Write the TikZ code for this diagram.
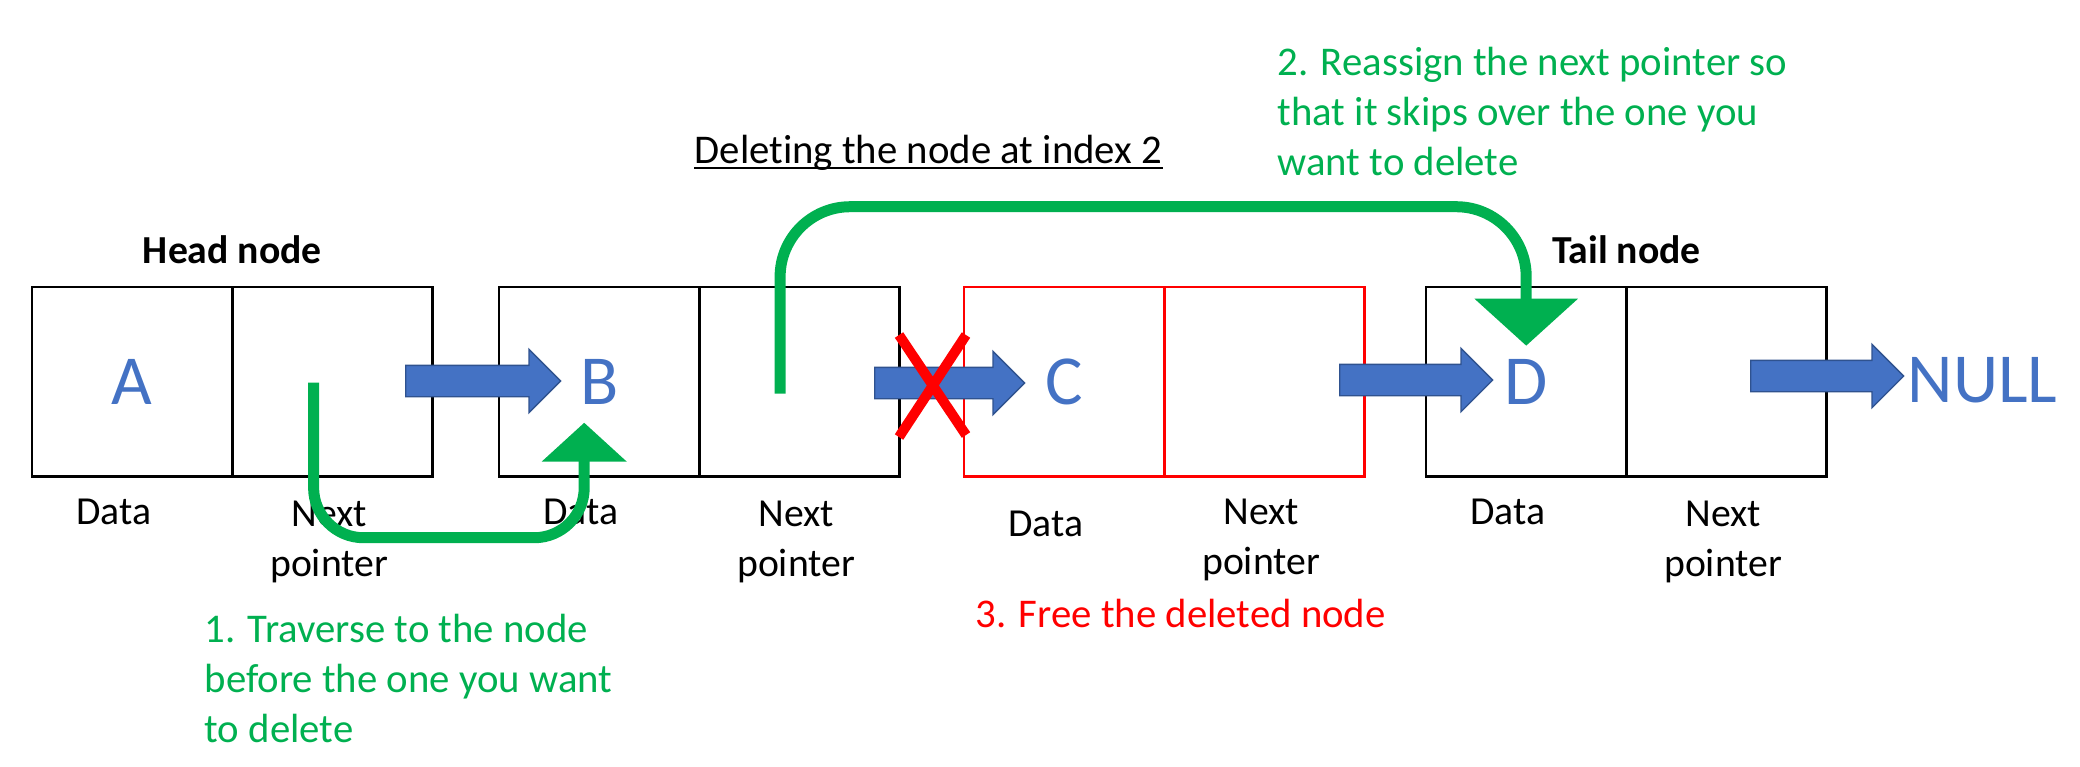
\documentclass[tikz,border=0pt]{standalone}
\usepackage{fontspec}
\setmainfont{Carlito}[Ligatures=NoCommon]
\usetikzlibrary{arrows.meta,shapes.arrows}
\definecolor{ptrblue}{RGB}{68,114,196}
\definecolor{ptredge}{RGB}{47,82,143}
\definecolor{stepgreen}{RGB}{0,176,80}
\definecolor{freered}{RGB}{255,0,0}

\begin{document}
\begin{tikzpicture}[
    x=.1mm, y=-.1mm,
    cell/.style={draw, line width=.4pt, minimum width=19.9mm, minimum height=18.8mm,
        inner sep=0pt, anchor=north west, text=ptrblue, font=\fontsize{20}{24}\selectfont},
    caption/.style={font=\fontsize{11.3}{14.1}\selectfont, align=center, inner sep=0pt, anchor=base},
    tag/.style={caption, font=\bfseries\fontsize{11.3}{14.1}\selectfont},
    note/.style={font=\fontsize{11.6}{14.1}\selectfont, align=left, inner sep=0pt, anchor=base west},
    ptr/.style={single arrow, fill=ptrblue, draw=ptredge, line width=.4pt,
        single arrow head extend=1.6mm, single arrow head indent=0pt,
        text height=3mm, text depth=0pt, inner sep=0pt, minimum width=0pt, anchor=tail},
    move/.style={draw=stepgreen, line width=1.1mm},
]
    \useasboundingbox (0,0) rectangle (2080,766);

    %% the four list nodes: a data cell and a next cell each
    \foreach \name/\x/\letter/\col in {a/32/A/black, b/499/B/black, c/964/C/freered, d/1426/D/black}{
        \node[cell, draw=\col] (\name1) at (\x, 287) {\letter};
        \node[cell, draw=\col] (\name2) at (\name1.north east) {};
        \draw[\col, line width=.7pt] (\name1.north west) rectangle (\name2.south east);
    }

    %% what the cells hold (a two-line node sits on its last baseline)
    \foreach \name/\dy/\dn in {a/48/100, b/48/100, c/60/98, d/48/100}{
        \node[caption] (\name1cap) at ([shift={(-18.5, \dy)}]\name1.south) {Data};
        \node[caption] (\name2cap) at ([shift={(-3.5, \dn)}]\name2.south) {Next\\pointer};
    }
    \node[tag] (head) at ([shift={(0, -24)}]a1.north east) {Head node};
    \node[tag] (tail) at ([shift={(0, -24)}]d1.north east) {Tail node};
    \node[inner sep=0pt, text=ptrblue, font=\fontsize{20}{24}\selectfont, anchor=west]
        (null) at (1907, 380) {NULL};

    %% the next pointers
    \foreach \name/\x/\y/\len in {ab/405/381/15.5, bc/874/383/15, cd/1339/380/15.3, dn/1750/376/15.3}
        \node[ptr, minimum height=\len mm] (\name) at (\x, \y) {};

    %% title and the three steps
    \node[note] (title) at (694, 163) {Deleting the node at index 2};
    \draw[line width=.77pt] ([shift={(0, 5)}]title.base west) -- ([shift={(0, 5)}]title.base east);
    \node[note, text=stepgreen] (step1) at (204, 742)
        {1. Traverse to the node\\before the one you want\\to delete};
    \node[note, text=stepgreen] (step2) at (1277, 175)
        {2. Reassign the next pointer so\\that it skips over the one you\\want to delete};
    \node[note, text=freered] (step3) at (975, 627) {3. Free the deleted node};

    %% step 1: walk to B; step 2: B's pointer skips to D
    \draw[move, rounded corners=5mm, -{Triangle[length=3.9mm, width=8.3mm]}]
        ([shift={(-19, 1)}]a2.center) -- ++(0, 155) -| ([shift={(-15, 41)}]b1.center);
    \draw[move, rounded corners=7mm, -{Triangle[length=4.7mm, width=10.1mm]}]
        ([shift={(-19.5, 12)}]b2.center) -- ++(0, -187) -| ([shift={(0, -36)}]d1.center);

    %% the old link to C is cut
    \draw[freered, line width=1mm] (899, 335) -- (966, 435) (966, 335) -- (899, 437);
\end{tikzpicture}
\end{document}
